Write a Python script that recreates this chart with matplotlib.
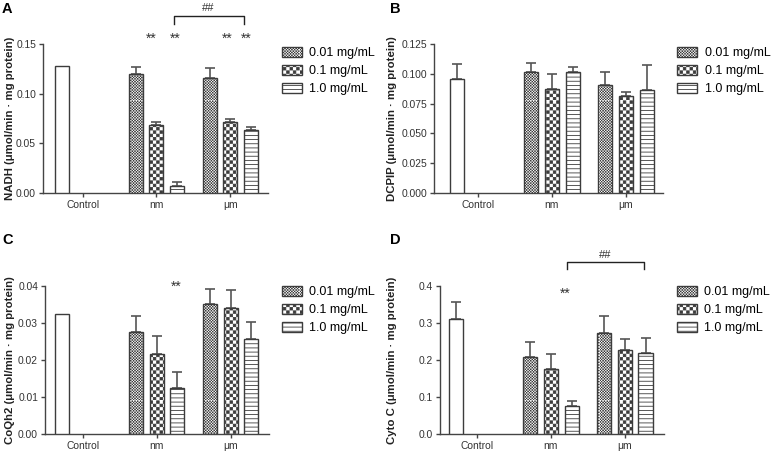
import numpy as np
import matplotlib
matplotlib.use("Agg")
import matplotlib.pyplot as plt
import matplotlib.hatch as mhatch
from matplotlib.path import Path
from matplotlib.ticker import FormatStrFormatter

plt.rcParams['font.family'] = ['Liberation Sans', 'DejaVu Sans']
plt.rcParams['hatch.linewidth'] = 0.6

groups = ["Control", "nm", "μm"]
doses = ["0.01 mg/mL", "0.1 mg/mL", "1.0 mg/mL"]

# NADH
nadh_ctrl, nadh_ctrl_err = 0.128, 0.0
nadh_nm = [0.1198, 0.0681, 0.0067]
nadh_nm_err = [0.0070, 0.0034, 0.0040]
nadh_um = [0.1158, 0.0715, 0.0634]
nadh_um_err = [0.0100, 0.0030, 0.0030]

# DCPIP
dcpip_ctrl, dcpip_ctrl_err = 0.0955, 0.0129
dcpip_nm = [0.1014, 0.0871, 0.1014]
dcpip_nm_err = [0.0079, 0.0129, 0.0045]
dcpip_um = [0.0902, 0.0812, 0.0862]
dcpip_um_err = [0.0112, 0.0036, 0.0208]

# CoQh2
coq_ctrl, coq_ctrl_err = 0.0324, 0.0
coq_nm = [0.0276, 0.0215, 0.0123]
coq_nm_err = [0.0042, 0.0051, 0.0045]
coq_um = [0.0350, 0.0340, 0.0256]
coq_um_err = [0.0041, 0.0048, 0.0048]

# Cyto C
cyto_ctrl, cyto_ctrl_err = 0.311, 0.045
cyto_nm = [0.209, 0.175, 0.0744]
cyto_nm_err = [0.040, 0.040, 0.0153]
cyto_um = [0.272, 0.226, 0.220]
cyto_um_err = [0.047, 0.030, 0.039]

EDGE = '#3c3c3c'
LW_PX = plt.rcParams['hatch.linewidth'] * 100 / 72.0


class Checks(mhatch.HatchPatternBase):
    """filled checkerboard hatch, triggered by 'o'"""
    def __init__(self, hatch, density):
        n = hatch.count('o') * density
        self.n = n - n % 2
        self.num_vertices = (self.n * self.n // 2) * 5

    def set_vertices_and_codes(self, vertices, codes):
        step = 1.0 / self.n
        s = max(step - LW_PX / 100.0, step * 0.3)
        k = 0
        for i in range(self.n):
            for j in range(self.n):
                if (i + j) % 2:
                    continue
                x0, y0 = i * step, j * step
                vertices[k:k + 5] = [(x0, y0), (x0 + s, y0), (x0 + s, y0 + s),
                                     (x0, y0 + s), (x0, y0)]
                codes[k:k + 5] = [Path.MOVETO, Path.LINETO, Path.LINETO,
                                  Path.LINETO, Path.CLOSEPOLY]
                k += 5


mhatch._hatch_types[mhatch._hatch_types.index(mhatch.SmallCircles)] = Checks

hatches = ['o' * 12, 'o' * 5, '-' * 4]

W, H = 772, 451
fig = plt.figure(figsize=(W / 100, H / 100), dpi=100)


def px_rect(left, bottom, right, top):
    return [left / W, 1 - bottom / H, (right - left) / W, (bottom - top) / H]


def panel(rect, xlim, ylim, ystep, fmt, ylabel, ylab_x, letter, letter_xy,
          leg_xy, ctrl, ctrl_err, nm, nm_err, um, um_err):
    ax = fig.add_axes(rect)
    off = 0.28
    width = 0.19
    ax.bar(0 - off, ctrl, width, color='white', edgecolor=EDGE, linewidth=1.0,
           zorder=3)
    if ctrl_err > 0:
        ax.errorbar(0 - off, ctrl, yerr=[[0], [ctrl_err]], fmt='none',
                    ecolor='#555555', elinewidth=1.2, capsize=3.5, capthick=1.2,
                    zorder=2)
    handles = []
    for k in range(3):
        x = np.array([1, 2]) + (k - 1) * off
        vals = [nm[k], um[k]]
        errs = [nm_err[k], um_err[k]]
        b = ax.bar(x, vals, width, color='white', edgecolor=EDGE, linewidth=1.0,
                   hatch=hatches[k], label=doses[k], zorder=3)
        ax.errorbar(x, vals, yerr=[np.zeros(2), errs], fmt='none',
                    ecolor='#555555', elinewidth=1.2, capsize=3.5, capthick=1.2,
                    zorder=2)
        handles.append(b)
    ax.set_xlim(*xlim)
    ax.set_ylim(*ylim)
    ax.set_yticks(np.arange(0, ylim[1] + ystep / 2, ystep))
    ax.yaxis.set_major_formatter(FormatStrFormatter(fmt))
    ax.set_xticks([0, 1, 2])
    ax.set_xticklabels(groups)
    for sp in ['top', 'right']:
        ax.spines[sp].set_visible(False)
    for sp in ['left', 'bottom']:
        ax.spines[sp].set_color('#444444')
        ax.spines[sp].set_linewidth(1.0)
    ax.tick_params(axis='both', colors='#444444', labelcolor='#333333',
                   labelsize=7.4, length=3, width=1.0, pad=2)
    ax.set_ylabel(ylabel, fontsize=8.2, fontweight='bold', color='#222222')
    ax.yaxis.set_label_coords(ylab_x, 0.5)
    ax.legend(handles=handles, loc='upper left', bbox_to_anchor=leg_xy,
              frameon=False, fontsize=9, handlelength=1.6, handleheight=0.8,
              handletextpad=0.6, labelspacing=0.48, borderpad=0,
              borderaxespad=0)
    fig.text(letter_xy[0] / W, 1 - letter_xy[1] / H, letter, fontsize=10.5,
             fontweight='bold', ha='left', va='top')
    return ax


def stars(ax, x, y):
    ax.text(x, y, '**', ha='center', va='center', fontsize=10, color='#333333')


def bracket(ax, x0, x1, y, drop, ty):
    ax.plot([x0, x0, x1, x1], [y - drop, y, y, y - drop], color='#222222',
            lw=1.0, clip_on=False)
    ax.text((x0 + x1) / 2, ty, '##', ha='center', va='center', fontsize=8,
            color='#333333')


axA = panel(px_rect(43, 193, 268, 44), (-0.536, 2.51), (0, 0.15), 0.05, '%.2f',
            'NADH (μmol/min · mg protein)', (15 - 43) / 225, 'A', (2, 2),
            (1.062, 0.98),
            nadh_ctrl, nadh_ctrl_err, nadh_nm, nadh_nm_err, nadh_um, nadh_um_err)
for x in [0.93, 1.26, 1.96, 2.21]:
    stars(axA, x, 0.155)
bracket(axA, 1.234, 2.18, 0.178, 0.008, 0.186)

axB = panel(px_rect(434, 193, 663, 44), (-0.59, 2.50), (0, 0.125), 0.025, '%.3f',
            'DCPIP (μmol/min · mg protein)', (397 - 434) / 229, 'B', (390, 2),
            (1.062, 0.98),
            dcpip_ctrl, dcpip_ctrl_err, dcpip_nm, dcpip_nm_err, dcpip_um,
            dcpip_um_err)

axC = panel(px_rect(45, 434, 269, 286), (-0.51, 2.52), (0, 0.04), 0.01, '%.2f',
            'CoQh2 (μmol/min · mg protein)', (15 - 45) / 224, 'C', (2, 233),
            (1.057, 1.0),
            coq_ctrl, coq_ctrl_err, coq_nm, coq_nm_err, coq_um, coq_um_err)
stars(axC, 1.26, 0.0398)

axD = panel(px_rect(440, 434, 664, 286), (-0.50, 2.53), (0, 0.4), 0.1, '%.1f',
            'Cyto C (μmol/min · mg protein)', (397 - 440) / 224, 'D', (390, 233),
            (1.058, 1.0),
            cyto_ctrl, cyto_ctrl_err, cyto_nm, cyto_nm_err, cyto_um, cyto_um_err)
stars(axD, 1.19, 0.378)
bracket(axD, 1.216, 2.257, 0.465, 0.02, 0.483)

fig.savefig('out.png', dpi=100)
